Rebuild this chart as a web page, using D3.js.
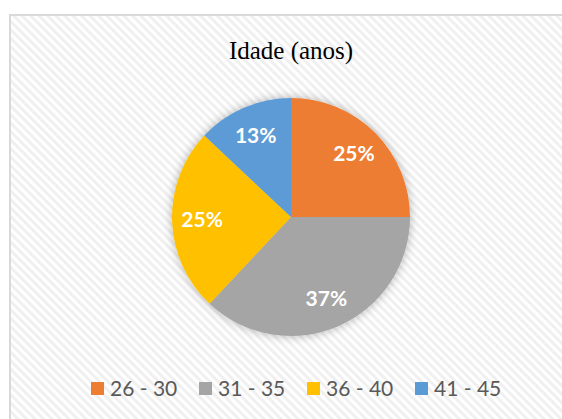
<!DOCTYPE html>
<html>
<head>
<meta charset="utf-8">
<script src="https://cdn.jsdelivr.net/npm/d3@7"></script>
<style>
  body { margin: 0; background: #fff; }
  svg { display: block; }
</style>
</head>
<body>
<div id="chart"></div>
<script>
var WIDTH = 562;
var HEIGHT = 419;

var categories = ["26 - 30", "31 - 35", "36 - 40", "41 - 45"];
var values = [25, 37, 25, 13];
var labels = ["25%", "37%", "25%", "13%"];
var COLORS = ["#ed7d31", "#a5a5a5", "#ffc000", "#5b9bd5"];

var CX = 291, CY = 217, R = 119;

var svg = d3.select("#chart").append("svg")
  .attr("width", WIDTH)
  .attr("height", HEIGHT);

var defs = svg.append("defs");

// diagonal stripes, like the Excel chart area fill
var pat = defs.append("pattern")
  .attr("id", "stripes")
  .attr("width", 6)
  .attr("height", 6)
  .attr("patternUnits", "userSpaceOnUse")
  .attr("patternTransform", "rotate(45)");
pat.append("rect").attr("width", 6).attr("height", 6).attr("fill", "#ffffff");
pat.append("rect").attr("width", 6).attr("height", 3).attr("fill", "#f0f0f0");

var glow = defs.append("filter")
  .attr("id", "glow")
  .attr("x", "-20%").attr("y", "-20%")
  .attr("width", "140%").attr("height", "140%");
glow.append("feGaussianBlur").attr("in", "SourceAlpha").attr("stdDeviation", 5).attr("result", "b");
glow.append("feFlood").attr("flood-color", "#000").attr("flood-opacity", 0.3);
glow.append("feComposite").attr("in2", "b").attr("operator", "in").attr("result", "s");
var merge = glow.append("feMerge");
merge.append("feMergeNode").attr("in", "s");
merge.append("feMergeNode").attr("in", "SourceGraphic");

// chart area
svg.append("rect")
  .attr("x", 10)
  .attr("y", 15)
  .attr("width", WIDTH + 10)
  .attr("height", HEIGHT + 10)
  .attr("fill", "url(#stripes)")
  .attr("stroke", "#d9d9d9")
  .attr("stroke-width", 2);

svg.append("text")
  .attr("x", CX)
  .attr("y", 59)
  .attr("text-anchor", "middle")
  .style("font-family", "'Liberation Serif', 'Times New Roman', serif")
  .style("font-size", "25px")
  .attr("fill", "#000")
  .text("Idade (anos)");

var pie = d3.pie().sort(null).value(d => d);
var arcs = pie(values);
var arc = d3.arc().innerRadius(0).outerRadius(R);
var labelArc = d3.arc().innerRadius(89).outerRadius(89);

var g = svg.append("g").attr("transform", "translate(" + CX + "," + CY + ")");

g.append("g")
  .attr("filter", "url(#glow)")
  .selectAll("path")
  .data(arcs)
  .enter()
  .append("path")
  .attr("d", arc)
  .attr("fill", (d, i) => COLORS[i]);

g.selectAll("text.lbl")
  .data(arcs)
  .enter()
  .append("text")
  .attr("class", "lbl")
  .attr("x", d => labelArc.centroid(d)[0])
  .attr("y", d => labelArc.centroid(d)[1])
  .attr("dy", "0.35em")
  .attr("text-anchor", "middle")
  .style("font-family", "Lato, 'Open Sans', sans-serif")
  .style("font-weight", "bold")
  .style("font-size", "21px")
  .attr("fill", "#fff")
  .text((d, i) => labels[i]);

// legend
var legend = svg.append("g").attr("transform", "translate(91,382)");
var item = legend.selectAll("g")
  .data(categories)
  .enter()
  .append("g")
  .attr("transform", (d, i) => "translate(" + (i * 108) + ",0)");

item.append("rect")
  .attr("width", 13)
  .attr("height", 13)
  .attr("fill", (d, i) => COLORS[i]);

item.append("text")
  .attr("x", 19)
  .attr("y", 7)
  .attr("dy", "0.35em")
  .style("font-family", "Lato, 'Open Sans', sans-serif")
  .style("font-size", "21px")
  .attr("fill", "#595959")
  .text(d => d);
</script>
</body>
</html>
